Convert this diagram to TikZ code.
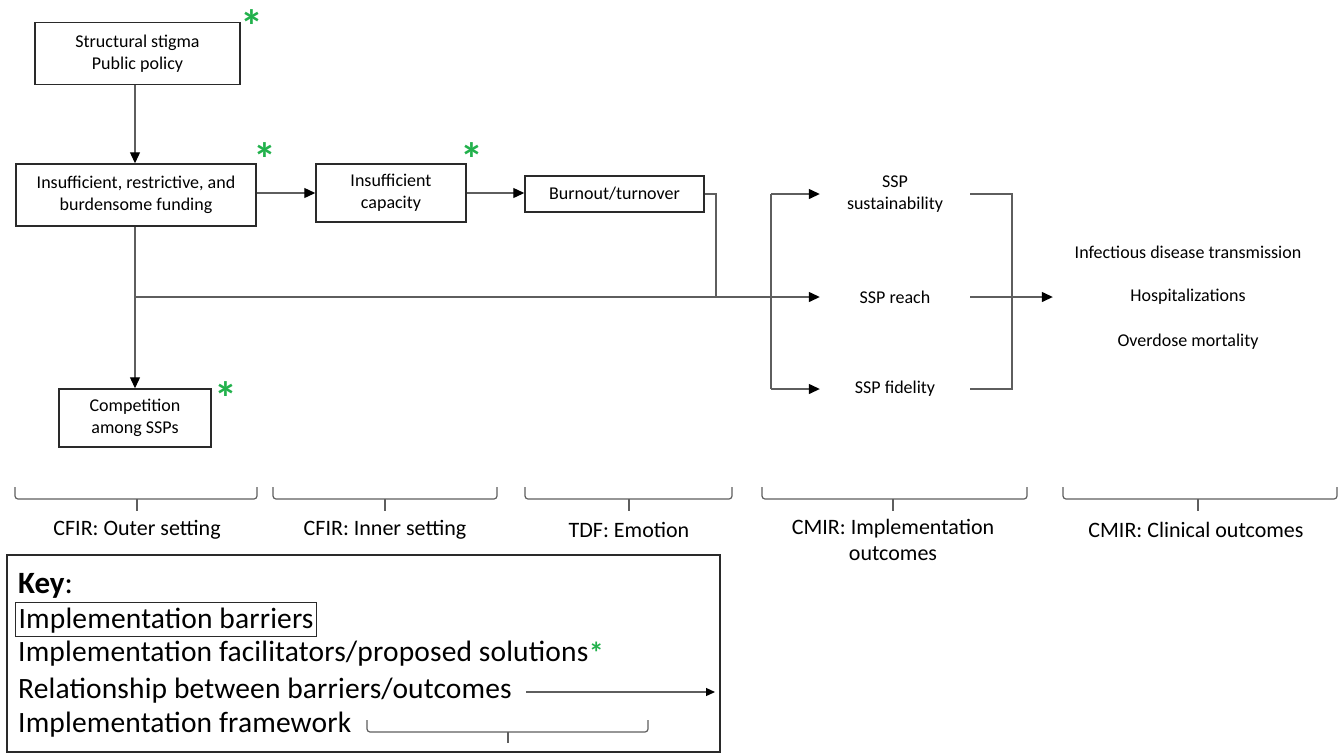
\documentclass[tikz,border=0pt]{standalone}
\usepackage{fontspec}
\setmainfont{Carlito}
\usetikzlibrary{arrows.meta}
\definecolor{lc}{HTML}{5E5E5E}
\definecolor{bc}{HTML}{2A2A2A}
\definecolor{st}{HTML}{22B14C}
\begin{document}
\begin{tikzpicture}[x=1pt,y=-1pt,
  barrier/.style={draw=bc,line width=1.5pt,align=center,inner sep=0pt,font=\fontsize{18}{22}\selectfont},
  lbl/.style={align=center,inner sep=0pt,font=\fontsize{18}{22}\selectfont},
  conn/.style={draw=lc,line width=1.3pt},
  arr/.style={conn,-{Triangle[width=10pt,length=11pt,fill=black,color=black]}},
  karr/.style={conn,-{Triangle[width=8pt,length=9pt,fill=black,color=black]}},
  starmark/.style={text=st,font=\bfseries\fontsize{46}{46}\selectfont,inner sep=0pt,anchor=north},
  fw/.style={align=center,inner sep=0pt,font=\fontsize{22}{26}\selectfont},
  brk/.style={draw=lc,line width=1.2pt,rounded corners=3pt},
  keyt/.style={font=\fontsize{29.5}{34}\selectfont\addfontfeatures{LetterSpace=0.5},anchor=base west,inner sep=0pt}
]
\useasboundingbox (0,0) rectangle (1343,753);

% barrier boxes
\node[barrier,minimum width=205pt,minimum height=62pt] (b1) at (137.5,53.5) {Structural stigma\\Public policy};
\node[barrier,minimum width=240pt,minimum height=62pt] (b2) at (136,195) {Insufficient, restrictive, and\\burdensome funding};
\node[barrier,minimum width=150pt,minimum height=58pt] (b3) at (391,193) {Insufficient\\capacity};
\node[barrier,minimum width=179pt,minimum height=36pt] (b4) at (614.5,194) {Burnout/turnover};
\node[barrier,minimum width=152pt,minimum height=58pt] (comp) at (135,418) {Competition\\among SSPs};

% stars
\node[starmark] (s1) at (252,9) {*};
\node[starmark] (s2) at (265,142) {*};
\node[starmark] (s3) at (472,142) {*};
\node[starmark] (s4) at (226,381) {*};

% implementation outcomes
\node[lbl,minimum width=150pt] (sust) at (895,194) {SSP\\sustainability};
\node[lbl,minimum width=150pt] (reach) at (895,297) {SSP reach};
\node[lbl,minimum width=150pt] (fid) at (895,389) {SSP fidelity};

% clinical outcomes
\node[lbl] (inf) at (1188,252) {Infectious disease transmission};
\node[lbl,minimum width=270pt] (hosp) at (1188,297) {Hospitalizations};
\node[lbl] (od) at (1188,342) {Overdose mortality};

% junctions
\coordinate (j0) at (135,297);
\coordinate (j1) at (716,297);
\coordinate (br) at (771,297);
\coordinate (rb) at (1012,297);

% connectors
\draw[arr] (b1.south -| comp.north) -- (b2.north -| comp.north);
\draw[arr] (b2.east |- b3.west) -- (b3.west);
\draw[arr] (b3.east) -- (b4.west |- b3.east);
\draw[conn] (b4.east) -| (j1);
\draw[arr] (b2.south -| comp.north) -- (comp.north);
\draw[arr] (j0) -- (reach.west);
\draw[conn] (sust.west -| br) -- (fid.west -| br);
\draw[arr] (sust.west -| br) -- (sust.west);
\draw[arr] (fid.west -| br) -- (fid.west);
\draw[conn] (sust.east) -| (fid.east -| rb) -- (fid.east);
\draw[arr] (reach.east) -- (hosp.west);

% framework brackets
\draw[brk] (15,487) -- (15,499) -- (257,499) -- (257,487);
\draw[brk] (137,499) -- (137,511);
\draw[brk] (273,487) -- (273,499) -- (497,499) -- (497,487);
\draw[brk] (385,499) -- (385,511);
\draw[brk] (525,487) -- (525,499) -- (732,499) -- (732,487);
\draw[brk] (629,499) -- (629,511);
\draw[brk] (762,487) -- (762,499) -- (1027,499) -- (1027,487);
\draw[brk] (893,499) -- (893,511);
\draw[brk] (1063,487) -- (1063,499) -- (1337,499) -- (1337,487);
\draw[brk] (1198,499) -- (1198,511);

\node[fw] (f1) at (137,530) {CFIR: Outer setting};
\node[fw] (f2) at (385,530) {CFIR: Inner setting};
\node[fw] (f3) at (629,530) {TDF: Emotion};
\node[fw,anchor=north] (f4) at (893,519) {CMIR: Implementation\\outcomes};
\node[fw] (f5) at (1196,530) {CMIR: Clinical outcomes};

% key
\node[draw=bc,line width=1.3pt,minimum width=713pt,minimum height=197pt,inner sep=0pt] (key) at (363.5,653.5) {};
\node[keyt,font=\fontsize{31}{34}\selectfont] (kt) at (18,593) {\textbf{Key}:};
\node[keyt,draw=bc,line width=1.3pt,inner xsep=3pt,text height=22pt,text depth=5pt,inner ysep=3.5pt] (kb) at (15,628) {Implementation barriers\hspace{10pt}};
\node[keyt] (kf) at (18,661) {Implementation facilitators/proposed solutions};
\node[starmark,font=\bfseries\fontsize{30}{30}\selectfont,anchor=north west] (ks) at (kf.east |- 0,642) {*};
\node[keyt] (kr) at (18,698) {Relationship between barriers/outcomes};
\coordinate (ka0) at (526,692);
\coordinate (kae) at (715,692);
\draw[karr] (ka0) -- (kae);
\node[keyt] (kw) at (18,732) {Implementation framework};
\draw[brk] (367,720) -- (367,732) -- (648,732) -- (648,720);
\draw[brk] (508,732) -- (508,743);
\end{tikzpicture}
\end{document}
